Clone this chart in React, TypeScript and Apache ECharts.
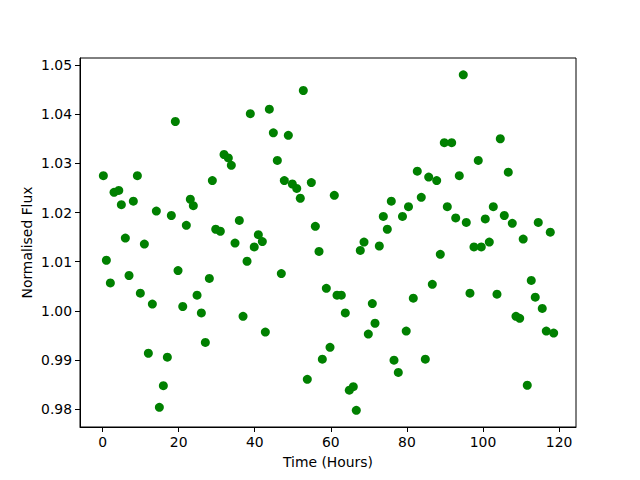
import React, { useEffect, useRef } from "react";
import * as echarts from "echarts";

const timeHours: number[] = [
  0.21, 1.0, 2.05, 3.02, 4.26, 4.94, 5.99, 6.96, 8.09, 9.15,
  9.93, 10.99, 12.04, 13.09, 14.14, 14.93, 15.98, 17.03, 18.08, 19.13,
  19.84, 21.08, 22.02, 23.07, 23.86, 24.84, 25.97, 27.02, 28.07, 28.86,
  29.75, 30.96, 31.93, 33.06, 33.85, 34.82, 35.95, 36.93, 37.98, 38.84,
  39.87, 40.95, 42.0, 42.79, 43.84, 44.89, 45.94, 46.99, 47.78, 48.83,
  49.88, 51.04, 51.98, 52.77, 53.82, 54.88, 55.93, 56.9, 57.77, 58.82,
  59.79, 60.92, 61.63, 62.76, 63.81, 64.86, 65.91, 66.7, 67.75, 68.73,
  69.86, 70.91, 71.62, 72.75, 73.8, 74.85, 75.9, 76.61, 77.74, 78.84,
  79.82, 80.42, 81.68, 82.73, 83.78, 84.84, 85.73, 86.68, 87.83, 88.78,
  89.83, 90.62, 91.77, 92.83, 93.77, 94.82, 95.61, 96.58, 97.63, 98.76,
  99.55, 100.6, 101.66, 102.71, 103.68, 104.55, 105.6, 106.65, 107.7, 108.67,
  109.65, 110.57, 111.64, 112.69, 113.74, 114.53, 115.58, 116.64, 117.69, 118.58,
];

const normalisedFlux: number[] = [
  1.0275, 1.0103, 1.0057, 1.0241, 1.0245, 1.0216, 1.0148, 1.0072, 1.0223, 1.0275,
  1.0036, 1.0136, 0.9914, 1.0014, 1.0203, 0.9804, 0.9848, 0.9906, 1.0194, 1.0385,
  1.0082, 1.0009, 1.0174, 1.0227, 1.0214, 1.0032, 0.9996, 0.9936, 1.0066, 1.0265,
  1.0166, 1.0162, 1.0318, 1.0311, 1.0296, 1.0138, 1.0184, 0.9989, 1.0101, 1.0401,
  1.013, 1.0155, 1.0141, 0.9957, 1.041, 1.0362, 1.0306, 1.0076, 1.0265, 1.0357,
  1.0258, 1.0249, 1.0229, 1.0448, 0.9861, 1.0261, 1.0172, 1.0121, 0.9902, 1.0046,
  0.9926, 1.0235, 1.0032, 1.0032, 0.9996, 0.9839, 0.9846, 0.9798, 1.0123, 1.014,
  0.9953, 1.0015, 0.9975, 1.0132, 1.0192, 1.0166, 1.0223, 0.99, 0.9875, 1.0192,
  0.9959, 1.0212, 1.0026, 1.0284, 1.0231, 0.9902, 1.0272, 1.0054, 1.0265, 1.0115,
  1.0342, 1.0212, 1.0342, 1.0189, 1.0275, 1.048, 1.018, 1.0036, 1.013, 1.0306,
  1.013, 1.0187, 1.014, 1.0212, 1.0034, 1.035, 1.0194, 1.0282, 1.0178, 0.9989,
  0.9985, 1.0146, 0.9849, 1.0062, 1.0028, 1.018, 1.0005, 0.9959, 1.016, 0.9955,
];

const xTicks: number[] = [0, 20, 40, 60, 80, 100, 120];
const yTicks: number[] = [0.98, 0.99, 1.0, 1.01, 1.02, 1.03, 1.04, 1.05];

const FONT = "DejaVu Sans";

export default function App() {
  const ref = useRef<HTMLDivElement>(null);

  useEffect(() => {
    if (!ref.current) return;
    const chart = echarts.init(ref.current, null, { renderer: "svg" });
    const points = timeHours.map((t, i) => [t, normalisedFlux[i]]);
    const xMin = -5.93;
    const xMax = 124.45;
    const yMin = 0.97641;
    const yMax = 1.05141;
    chart.setOption({
      animation: false,
      backgroundColor: "#ffffff",
      grid: {
        left: 80,
        right: 64,
        top: 58,
        bottom: 53,
        show: true,
        borderColor: "#000000",
        borderWidth: 1,
        backgroundColor: "transparent",
      },
      xAxis: {
        type: "value",
        min: xMin,
        max: xMax,
        name: "Time (Hours)",
        nameLocation: "middle",
        nameGap: 28,
        nameMoveOverlap: false,
        nameTextStyle: { color: "#000", fontFamily: FONT, fontSize: 13.9 },
        axisLine: { show: true, onZero: false, lineStyle: { color: "#000", width: 1 } },
        axisTick: {
          show: true,
          inside: false,
          length: 5,
          lineStyle: { color: "#000", width: 1 },
          customValues: xTicks,
        },
        axisLabel: {
          color: "#000",
          fontFamily: FONT,
          fontSize: 13.9,
          margin: 8,
          customValues: xTicks,
          formatter: (v: number) => String(Math.round(v)),
        },
        splitLine: { show: false },
      },
      yAxis: {
        type: "value",
        min: yMin,
        max: yMax,
        name: "Normalised Flux",
        nameLocation: "middle",
        nameGap: 46,
        nameMoveOverlap: false,
        nameTextStyle: { color: "#000", fontFamily: FONT, fontSize: 13.9 },
        axisLine: { show: true, onZero: false, lineStyle: { color: "#000", width: 1 } },
        axisTick: {
          show: true,
          inside: false,
          length: 5,
          lineStyle: { color: "#000", width: 1 },
          customValues: yTicks,
        },
        axisLabel: {
          color: "#000",
          fontFamily: FONT,
          fontSize: 13.9,
          margin: 8,
          customValues: yTicks,
          formatter: (v: number) => v.toFixed(2),
        },
        splitLine: { show: false },
      },
      series: [
        {
          type: "scatter",
          data: points,
          symbol: "circle",
          symbolSize: 9,
          itemStyle: { color: "#008000", opacity: 1 },
        },
      ],
    });
    return () => chart.dispose();
  }, []);

  return (
    <div
      ref={ref}
      style={{ position: "fixed", left: 0, top: 0, width: 640, height: 480, background: "#fff" }}
    />
  );
}
